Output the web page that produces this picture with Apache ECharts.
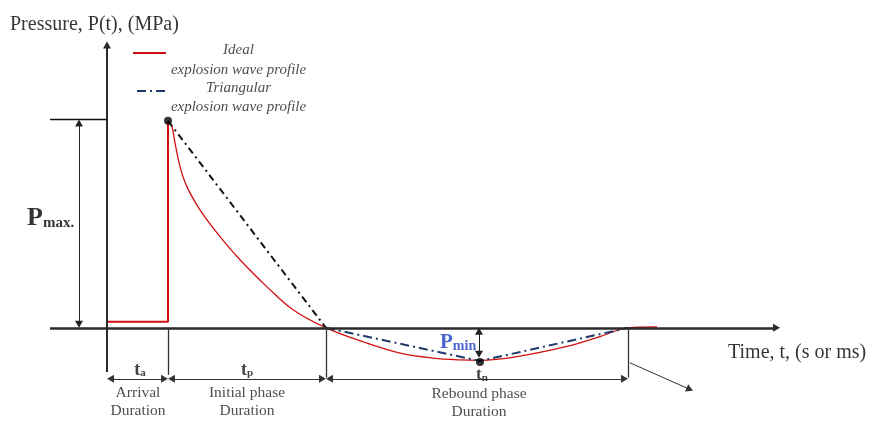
<!DOCTYPE html>
<html>
<head>
<meta charset="utf-8">
<script src="https://cdn.jsdelivr.net/npm/echarts@6/dist/echarts.min.js"></script>
<style>html,body{margin:0;padding:0;background:#fff}#c{width:873px;height:421px}</style>
</head>
<body>
<div id="c"></div>
<script>
// ---- data (time t in arbitrary units, pressure normalised to Pmax = 1) ----
const idealStep = [[0, 0.03], [6.1, 0.03], [6.1, 1.0]];
const idealProfile = [[6.1, 1.0], [6.5, 0.97], [6.8, 0.894], [7.3, 0.779], [8.0, 0.681], [9.3, 0.570],
  [11.0, 0.459], [13.3, 0.329], [16.0, 0.198], [18.6, 0.087], [21.9, 0], [26.0, -0.074], [29.3, -0.122],
  [32.6, -0.146], [35.3, -0.155], [37.3, -0.157], [41.0, -0.139], [46.0, -0.090], [49.3, -0.042],
  [52.1, 0], [55.0, 0.004]];
const triangularPositive = [[6.1, 1.0], [21.9, 0]];
const triangularNegative = [[21.9, 0], [37.3, -0.16], [52.1, 0]];
const keyPoints = [[6.1, 1.0], [37.3, -0.165]];
const tArrival = 6.1, tPositiveEnd = 21.9, tMin = 37.2, tReboundEnd = 52.1;
const pMax = 1.0, pMinArrow = -0.145;
const legendNames = ['Ideal\nexplosion wave profile', 'Triangular\nexplosion wave profile'];

const SERIF = '"Liberation Serif", "Times New Roman", serif';
const RED = '#d01010', NAVY = '#1f3a68', AX = '#333';
// units per pixel of the plot (used only to keep arrow tips on their target lines)
const UX = 0.1, UY = 1 / 207, TIP = 3.5;

function seg(a, b, opts) {
  opts = opts || {};
  const dx = (b[0] - a[0]) / UX, dy = (b[1] - a[1]) / UY;
  const len = Math.hypot(dx, dy) || 1;
  const ox = dx / len * TIP * UX, oy = dy / len * TIP * UY;
  const A = opts.start ? [a[0] + ox, a[1] + oy] : a;
  const B = opts.end ? [b[0] - ox, b[1] - oy] : b;
  return [
    { coord: A, symbol: opts.start ? 'triangle' : 'none', symbolSize: [8, 7],
      lineStyle: { color: opts.color || AX, width: opts.width || 1, type: opts.type || 'solid' } },
    { coord: B, symbol: opts.end ? 'triangle' : 'none', symbolSize: [8, 7] }
  ];
}

const yArrowLevel = -0.246;
const lines = [
  seg([-5.7, 0], [67.3, 0], { end: true, width: 2.5, color: '#2a2a2a' }),
  seg([0, -0.213], [0, 1.383], { end: true, width: 2, color: '#2a2a2a' }),
  seg([-5.7, 1.007], [0, 1.007], { width: 1.3, color: '#111' }),
  seg([-2.8, 1.007], [-2.8, 0], { start: true, end: true, color: '#222' }),
  seg([tArrival, 0], [tArrival, -0.227], { width: 1.3 }),
  seg([tPositiveEnd, 0], [tPositiveEnd, -0.24], { width: 1.3 }),
  seg([tReboundEnd, 0], [tReboundEnd, -0.24], { width: 1.3 }),
  seg([0, yArrowLevel], [tArrival, yArrowLevel], { start: true, end: true }),
  seg([tArrival, yArrowLevel], [tPositiveEnd, yArrowLevel], { start: true, end: true }),
  seg([tPositiveEnd, yArrowLevel], [tReboundEnd, yArrowLevel], { start: true, end: true }),
  seg([tReboundEnd + 0.2, -0.169], [58.6, -0.304], { end: true }),
  seg([tMin, 0], [tMin, pMinArrow], { start: true, end: true, color: '#222' }),
  seg([2.6, 1.329], [5.9, 1.329], { color: RED, width: 2 }),
  seg([3.0, 1.145], [6.0, 1.145], { color: NAVY, width: 2, type: [9, 4, 2, 4] })
];

function lbl(pos, formatter, opt) {
  return {
    value: pos,
    label: Object.assign({
      show: true, position: 'inside', formatter: formatter, align: 'center', verticalAlign: 'middle',
      fontFamily: SERIF, fontSize: 15.5, color: '#222'
    }, opt || {})
  };
}
const subRich = (big, small, color, sh) => ({
  p: { fontFamily: SERIF, fontWeight: 'bold', fontSize: big, lineHeight: big, color: color },
  s: { fontFamily: SERIF, fontWeight: 'bold', fontSize: small, lineHeight: sh, verticalAlign: 'bottom', color: color }
});

const texts = [
  lbl([-9.7, 1.464], 'Pressure, P(t), (MPa)', { align: 'left', fontSize: 20, color: '#000' }),
  lbl([62.1, -0.121], 'Time, t, (s or ms)', { align: 'left', fontSize: 20, color: '#000' }),
  lbl([13.15, 1.295], legendNames[0], { fontStyle: 'italic', fontSize: 15, lineHeight: 20, color: '#222' }),
  lbl([13.15, 1.111], legendNames[1], { fontStyle: 'italic', fontSize: 15, lineHeight: 19, color: '#222' }),
  lbl([-8.0, 0.531], '{p|P}{s|max.}', { align: 'left', rich: subRich(26, 15, '#000', 10) }),
  lbl([33.3, -0.072], '{p|P}{s|min}', { align: 'left', rich: subRich(21, 14, '#1f3fc0', 6) }),
  lbl([3.3, -0.203], '{p|t}{s|a}', { rich: subRich(18, 11, '#111', 8) }),
  lbl([14.0, -0.203], '{p|t}{s|p}', { rich: subRich(18, 11, '#111', 8) }),
  lbl([37.5, -0.227], '{p|t}{s|n}', { rich: subRich(17, 11, '#111', 8) }),
  lbl([3.1, -0.357], 'Arrival\nDuration', { lineHeight: 18 }),
  lbl([14.0, -0.357], 'Initial phase\nDuration', { lineHeight: 18 }),
  lbl([37.2, -0.365], 'Rebound phase\nDuration', { lineHeight: 18 })
];

const chart = echarts.init(document.getElementById('c'), null, { renderer: 'canvas' });
chart.setOption({
  animation: false,
  backgroundColor: '#fff',
  grid: { left: 0, right: 0, top: 7, height: 414 },
  xAxis: { type: 'value', min: -10.7, max: 76.6, show: false },
  yAxis: { type: 'value', min: -0.45, max: 1.55, show: false },
  series: [
    { type: 'line', z: 1, data: [], silent: true,
      markLine: { silent: true, animation: false, label: { show: false }, symbol: 'none', data: lines } },
    { name: 'Ideal step', type: 'line', z: 3, data: idealStep, showSymbol: false, silent: true,
      lineStyle: { color: RED, width: 2 } },
    { name: 'Ideal', type: 'line', z: 3, data: idealProfile, showSymbol: false, silent: true,
      smooth: 0.35, lineStyle: { color: RED, width: 1.3 } },
    { name: 'Triangular +', type: 'line', z: 4, data: triangularPositive, showSymbol: false, silent: true,
      lineStyle: { color: '#111', width: 2, type: [7, 4, 2, 4] } },
    { name: 'Triangular -', type: 'line', z: 4, data: triangularNegative, showSymbol: false, silent: true,
      lineStyle: { color: NAVY, width: 2, type: [9, 4, 2, 4] } },
    { type: 'scatter', z: 5, data: keyPoints, symbolSize: 8, itemStyle: { color: '#000' }, silent: true },
    { type: 'scatter', z: 6, data: texts, symbolSize: 0, silent: true }
  ]
});
</script>
</body>
</html>
